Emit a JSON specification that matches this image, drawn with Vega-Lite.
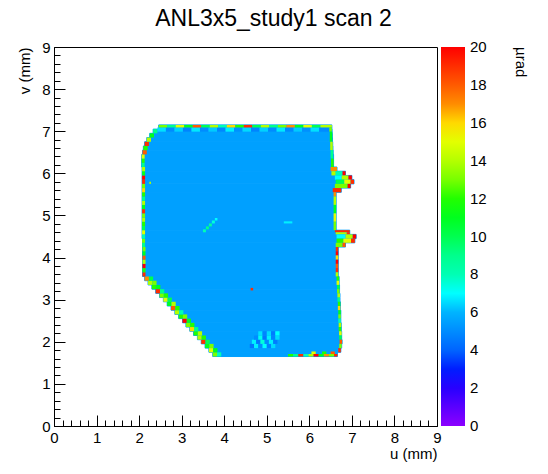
{
"$schema": "https://vega.github.io/schema/vega-lite/v6.json",
"width": 383, "height": 379,
"autosize": {"type": "none"},
"padding": {"left": 54, "top": 47, "right": 111, "bottom": 48},
"background": "white",
"title": {"text": "ANL3x5_study1 scan 2", "font": "Liberation Sans", "fontSize": 23, "fontWeight": "normal", "color": "black", "anchor": "middle", "frame": "group", "dx": 28, "dy": 29, "offset": 15, "baseline": "bottom"},
"config": {
 "view": {"stroke": "black", "strokeWidth": 1},
 "axis": {"labelFont": "Liberation Sans", "labelFontSize": 15, "labelColor": "black", "titleFont": "Liberation Sans", "titleFontSize": 15, "titleFontWeight": "normal", "titleColor": "black", "domainColor": "black", "tickColor": "black", "grid": false, "tickWidth": 1, "domainWidth": 1},
 "legend": {"labelFont": "Liberation Sans", "titleFont": "Liberation Sans"}
},
"datasets": {
 "body": [
{"u1":3.73,"u2":6.66,"v1":1.65,"v2":1.75,"val":5.5},
{"u1":3.64,"u2":6.74,"v1":1.75,"v2":1.85,"val":5.5},
{"u1":3.55,"u2":6.76,"v1":1.85,"v2":1.95,"val":5.5},
{"u1":3.46,"u2":6.77,"v1":1.95,"v2":2.05,"val":5.5},
{"u1":3.37,"u2":6.76,"v1":2.05,"v2":2.15,"val":5.5},
{"u1":3.28,"u2":6.76,"v1":2.15,"v2":2.25,"val":5.5},
{"u1":3.19,"u2":6.75,"v1":2.25,"v2":2.35,"val":5.5},
{"u1":3.10,"u2":6.75,"v1":2.35,"v2":2.45,"val":5.5},
{"u1":3.02,"u2":6.74,"v1":2.45,"v2":2.55,"val":5.5},
{"u1":2.93,"u2":6.74,"v1":2.55,"v2":2.65,"val":5.5},
{"u1":2.84,"u2":6.74,"v1":2.65,"v2":2.75,"val":5.5},
{"u1":2.75,"u2":6.73,"v1":2.75,"v2":2.85,"val":5.5},
{"u1":2.66,"u2":6.73,"v1":2.85,"v2":2.95,"val":5.5},
{"u1":2.57,"u2":6.72,"v1":2.95,"v2":3.05,"val":5.5},
{"u1":2.48,"u2":6.72,"v1":3.05,"v2":3.15,"val":5.5},
{"u1":2.39,"u2":6.71,"v1":3.15,"v2":3.25,"val":5.5},
{"u1":2.30,"u2":6.71,"v1":3.25,"v2":3.35,"val":5.5},
{"u1":2.21,"u2":6.70,"v1":3.35,"v2":3.45,"val":5.5},
{"u1":2.13,"u2":6.70,"v1":3.45,"v2":3.55,"val":5.5},
{"u1":2.08,"u2":6.68,"v1":3.55,"v2":4.25,"val":5.5},
{"u1":2.08,"u2":6.85,"v1":4.25,"v2":4.35,"val":5.5},
{"u1":2.08,"u2":7.07,"v1":4.35,"v2":4.45,"val":5.5},
{"u1":2.07,"u2":7.10,"v1":4.45,"v2":4.55,"val":5.5},
{"u1":2.07,"u2":6.95,"v1":4.55,"v2":4.65,"val":5.5},
{"u1":2.07,"u2":6.63,"v1":4.65,"v2":5.55,"val":5.5},
{"u1":2.07,"u2":6.75,"v1":5.55,"v2":5.65,"val":5.5},
{"u1":2.07,"u2":6.97,"v1":5.65,"v2":5.75,"val":5.5},
{"u1":2.07,"u2":7.05,"v1":5.75,"v2":5.85,"val":5.5},
{"u1":2.07,"u2":7.00,"v1":5.85,"v2":5.95,"val":5.5},
{"u1":2.07,"u2":6.85,"v1":5.95,"v2":6.05,"val":5.5},
{"u1":2.07,"u2":6.65,"v1":6.05,"v2":6.15,"val":5.5},
{"u1":2.06,"u2":6.57,"v1":6.15,"v2":6.45,"val":5.5},
{"u1":2.08,"u2":6.56,"v1":6.45,"v2":6.55,"val":5.5},
{"u1":2.10,"u2":6.555,"v1":6.55,"v2":6.65,"val":5.5},
{"u1":2.13,"u2":6.55,"v1":6.65,"v2":6.75,"val":5.5},
{"u1":2.18,"u2":6.545,"v1":6.75,"v2":6.85,"val":5.5},
{"u1":2.25,"u2":6.54,"v1":6.85,"v2":6.95,"val":5.5},
{"u1":2.33,"u2":6.535,"v1":6.95,"v2":7.05,"val":5.5},
{"u1":2.46,"u2":6.53,"v1":7.05,"v2":7.15,"val":5.5}
 ],
 "edges": [
{"u1":3.73,"u2":3.83,"v1":1.65,"v2":1.75,"val":13},{"u1":3.83,"u2":3.93,"v1":1.65,"v2":1.75,"val":8},
{"u1":3.64,"u2":3.74,"v1":1.75,"v2":1.85,"val":15},{"u1":3.74,"u2":3.84,"v1":1.75,"v2":1.85,"val":11},
{"u1":3.55,"u2":3.65,"v1":1.85,"v2":1.95,"val":11},{"u1":3.65,"u2":3.75,"v1":1.85,"v2":1.95,"val":13},
{"u1":3.46,"u2":3.56,"v1":1.95,"v2":2.05,"val":19},{"u1":3.56,"u2":3.66,"v1":1.95,"v2":2.05,"val":10},
{"u1":3.37,"u2":3.47,"v1":2.05,"v2":2.15,"val":14},{"u1":3.47,"u2":3.57,"v1":2.05,"v2":2.15,"val":12},
{"u1":3.28,"u2":3.38,"v1":2.15,"v2":2.25,"val":12},{"u1":3.38,"u2":3.48,"v1":2.15,"v2":2.25,"val":14},
{"u1":3.19,"u2":3.29,"v1":2.25,"v2":2.35,"val":16},{"u1":3.29,"u2":3.39,"v1":2.25,"v2":2.35,"val":9},
{"u1":3.10,"u2":3.20,"v1":2.35,"v2":2.45,"val":13},{"u1":3.20,"u2":3.30,"v1":2.35,"v2":2.45,"val":12},
{"u1":3.02,"u2":3.12,"v1":2.45,"v2":2.55,"val":20},{"u1":3.12,"u2":3.22,"v1":2.45,"v2":2.55,"val":11},
{"u1":2.93,"u2":3.03,"v1":2.55,"v2":2.65,"val":12},{"u1":3.03,"u2":3.13,"v1":2.55,"v2":2.65,"val":13},
{"u1":2.84,"u2":2.94,"v1":2.65,"v2":2.75,"val":14},{"u1":2.94,"u2":3.04,"v1":2.65,"v2":2.75,"val":8},
{"u1":2.75,"u2":2.85,"v1":2.75,"v2":2.85,"val":18},{"u1":2.85,"u2":2.95,"v1":2.75,"v2":2.85,"val":12},
{"u1":2.66,"u2":2.76,"v1":2.85,"v2":2.95,"val":11},{"u1":2.76,"u2":2.86,"v1":2.85,"v2":2.95,"val":14},
{"u1":2.57,"u2":2.67,"v1":2.95,"v2":3.05,"val":15},{"u1":2.67,"u2":2.77,"v1":2.95,"v2":3.05,"val":10},
{"u1":2.48,"u2":2.58,"v1":3.05,"v2":3.15,"val":13},{"u1":2.58,"u2":2.68,"v1":3.05,"v2":3.15,"val":12},
{"u1":2.39,"u2":2.49,"v1":3.15,"v2":3.25,"val":19},{"u1":2.49,"u2":2.59,"v1":3.15,"v2":3.25,"val":9},
{"u1":2.30,"u2":2.40,"v1":3.25,"v2":3.35,"val":12},{"u1":2.40,"u2":2.50,"v1":3.25,"v2":3.35,"val":11},
{"u1":2.21,"u2":2.31,"v1":3.35,"v2":3.45,"val":14},{"u1":2.31,"u2":2.41,"v1":3.35,"v2":3.45,"val":13},
{"u1":2.13,"u2":2.23,"v1":3.45,"v2":3.55,"val":17},{"u1":2.23,"u2":2.33,"v1":3.45,"v2":3.55,"val":10},
{"u1":2.08,"u2":2.15,"v1":3.55,"v2":3.65,"val":19},
{"u1":2.08,"u2":2.15,"v1":3.65,"v2":3.75,"val":12},
{"u1":2.08,"u2":2.15,"v1":3.75,"v2":3.85,"val":20},
{"u1":2.08,"u2":2.15,"v1":3.85,"v2":3.95,"val":14},
{"u1":2.08,"u2":2.15,"v1":3.95,"v2":4.05,"val":18},
{"u1":2.08,"u2":2.15,"v1":4.05,"v2":4.15,"val":11},
{"u1":2.08,"u2":2.15,"v1":4.15,"v2":4.25,"val":13},
{"u1":2.07,"u2":2.14,"v1":4.25,"v2":4.35,"val":9},
{"u1":2.07,"u2":2.14,"v1":4.35,"v2":4.45,"val":13},
{"u1":2.07,"u2":2.14,"v1":4.45,"v2":4.55,"val":8},
{"u1":2.07,"u2":2.14,"v1":4.55,"v2":4.65,"val":15},
{"u1":2.07,"u2":2.14,"v1":4.65,"v2":4.75,"val":10},
{"u1":2.07,"u2":2.14,"v1":4.75,"v2":4.85,"val":12},
{"u1":2.07,"u2":2.14,"v1":4.85,"v2":4.95,"val":14},
{"u1":2.07,"u2":2.14,"v1":4.95,"v2":5.05,"val":13},
{"u1":2.07,"u2":2.14,"v1":5.05,"v2":5.15,"val":19},
{"u1":2.07,"u2":2.14,"v1":5.15,"v2":5.25,"val":11},
{"u1":2.07,"u2":2.14,"v1":5.25,"v2":5.35,"val":14},
{"u1":2.07,"u2":2.14,"v1":5.35,"v2":5.45,"val":9},
{"u1":2.07,"u2":2.14,"v1":5.45,"v2":5.55,"val":12},
{"u1":2.07,"u2":2.14,"v1":5.55,"v2":5.65,"val":16},
{"u1":2.07,"u2":2.14,"v1":5.65,"v2":5.75,"val":13},
{"u1":2.07,"u2":2.14,"v1":5.75,"v2":5.85,"val":19},
{"u1":2.07,"u2":2.14,"v1":5.85,"v2":5.95,"val":20},
{"u1":2.07,"u2":2.14,"v1":5.95,"v2":6.05,"val":11},
{"u1":2.07,"u2":2.14,"v1":6.05,"v2":6.15,"val":14},
{"u1":2.06,"u2":2.13,"v1":6.15,"v2":6.25,"val":9},
{"u1":2.06,"u2":2.13,"v1":6.25,"v2":6.35,"val":12},
{"u1":2.06,"u2":2.13,"v1":6.35,"v2":6.45,"val":15},
{"u1":2.08,"u2":2.18,"v1":6.45,"v2":6.55,"val":18},
{"u1":2.10,"u2":2.20,"v1":6.55,"v2":6.65,"val":12},
{"u1":2.13,"u2":2.23,"v1":6.65,"v2":6.75,"val":19},
{"u1":2.18,"u2":2.28,"v1":6.75,"v2":6.85,"val":14},
{"u1":2.25,"u2":2.35,"v1":6.85,"v2":6.95,"val":11},
{"u1":2.33,"u2":2.43,"v1":6.95,"v2":7.05,"val":9},
{"u1":2.43,"u2":2.63,"v1":6.99,"v2":7.09,"val":6.6},
{"u1":2.63,"u2":2.83,"v1":6.99,"v2":7.09,"val":5.0},
{"u1":2.83,"u2":3.03,"v1":6.99,"v2":7.09,"val":6.4},
{"u1":3.03,"u2":3.23,"v1":6.99,"v2":7.09,"val":4.8},
{"u1":3.23,"u2":3.43,"v1":6.99,"v2":7.09,"val":6.7},
{"u1":3.43,"u2":3.63,"v1":6.99,"v2":7.09,"val":5.0},
{"u1":3.63,"u2":3.83,"v1":6.99,"v2":7.09,"val":6.3},
{"u1":3.83,"u2":4.03,"v1":6.99,"v2":7.09,"val":4.9},
{"u1":4.03,"u2":4.23,"v1":6.99,"v2":7.09,"val":6.8},
{"u1":4.23,"u2":4.43,"v1":6.99,"v2":7.09,"val":5.1},
{"u1":4.43,"u2":4.63,"v1":6.99,"v2":7.09,"val":6.5},
{"u1":4.63,"u2":4.83,"v1":6.99,"v2":7.09,"val":4.8},
{"u1":4.83,"u2":5.03,"v1":6.99,"v2":7.09,"val":6.4},
{"u1":5.03,"u2":5.23,"v1":6.99,"v2":7.09,"val":5.0},
{"u1":5.23,"u2":5.43,"v1":6.99,"v2":7.09,"val":6.7},
{"u1":5.43,"u2":5.63,"v1":6.99,"v2":7.09,"val":4.9},
{"u1":5.63,"u2":5.83,"v1":6.99,"v2":7.09,"val":6.3},
{"u1":5.83,"u2":6.03,"v1":6.99,"v2":7.09,"val":5.1},
{"u1":6.03,"u2":6.23,"v1":6.99,"v2":7.09,"val":6.6},
{"u1":6.23,"u2":6.47,"v1":6.99,"v2":7.09,"val":5.0},
{"u1":2.46,"u2":2.66,"v1":7.09,"v2":7.15,"val":13},
{"u1":2.66,"u2":2.86,"v1":7.09,"v2":7.15,"val":9},
{"u1":2.86,"u2":3.06,"v1":7.09,"v2":7.15,"val":15},
{"u1":3.06,"u2":3.26,"v1":7.09,"v2":7.15,"val":11},
{"u1":3.26,"u2":3.46,"v1":7.09,"v2":7.15,"val":18},
{"u1":3.46,"u2":3.66,"v1":7.09,"v2":7.15,"val":10},
{"u1":3.66,"u2":3.86,"v1":7.09,"v2":7.15,"val":14},
{"u1":3.86,"u2":4.06,"v1":7.09,"v2":7.15,"val":8},
{"u1":4.06,"u2":4.26,"v1":7.09,"v2":7.15,"val":16},
{"u1":4.26,"u2":4.46,"v1":7.09,"v2":7.15,"val":12},
{"u1":4.46,"u2":4.66,"v1":7.09,"v2":7.15,"val":19},
{"u1":4.66,"u2":4.86,"v1":7.09,"v2":7.15,"val":10},
{"u1":4.86,"u2":5.06,"v1":7.09,"v2":7.15,"val":14},
{"u1":5.06,"u2":5.26,"v1":7.09,"v2":7.15,"val":9},
{"u1":5.26,"u2":5.46,"v1":7.09,"v2":7.15,"val":13},
{"u1":5.46,"u2":5.66,"v1":7.09,"v2":7.15,"val":17},
{"u1":5.66,"u2":5.86,"v1":7.09,"v2":7.15,"val":11},
{"u1":5.86,"u2":6.06,"v1":7.09,"v2":7.15,"val":15},
{"u1":6.06,"u2":6.26,"v1":7.09,"v2":7.15,"val":10},
{"u1":6.26,"u2":6.53,"v1":7.09,"v2":7.15,"val":14},
{"u1":6.47,"u2":6.53,"v1":6.99,"v2":7.09,"val":13},
{"u1":6.48,"u2":6.54,"v1":6.75,"v2":6.99,"val":11},
{"u1":6.49,"u2":6.55,"v1":6.55,"v2":6.75,"val":14},
{"u1":6.50,"u2":6.56,"v1":6.35,"v2":6.55,"val":9},
{"u1":6.51,"u2":6.57,"v1":6.15,"v2":6.35,"val":12},
{"u1":6.50,"u2":6.65,"v1":6.05,"v2":6.15,"val":17},
{"u1":6.52,"u2":6.62,"v1":5.95,"v2":6.05,"val":14},
{"u1":6.62,"u2":6.78,"v1":5.95,"v2":6.05,"val":8},
{"u1":6.78,"u2":6.85,"v1":5.95,"v2":6.05,"val":20},
{"u1":6.60,"u2":6.76,"v1":5.85,"v2":5.95,"val":7},
{"u1":6.76,"u2":6.92,"v1":5.85,"v2":5.95,"val":14},
{"u1":6.92,"u2":7.00,"v1":5.85,"v2":5.95,"val":20},
{"u1":6.62,"u2":6.82,"v1":5.75,"v2":5.85,"val":10},
{"u1":6.82,"u2":6.97,"v1":5.75,"v2":5.85,"val":15},
{"u1":6.97,"u2":7.05,"v1":5.75,"v2":5.85,"val":19},
{"u1":6.60,"u2":6.90,"v1":5.65,"v2":5.75,"val":13},
{"u1":6.90,"u2":6.97,"v1":5.65,"v2":5.75,"val":20},
{"u1":6.55,"u2":6.75,"v1":5.55,"v2":5.65,"val":19},
{"u1":6.57,"u2":6.63,"v1":5.45,"v2":5.55,"val":17},
{"u1":6.57,"u2":6.63,"v1":5.25,"v2":5.45,"val":14},
{"u1":6.57,"u2":6.63,"v1":5.05,"v2":5.25,"val":11},
{"u1":6.57,"u2":6.63,"v1":4.85,"v2":5.05,"val":15},
{"u1":6.57,"u2":6.63,"v1":4.65,"v2":4.85,"val":13},
{"u1":6.60,"u2":6.95,"v1":4.60,"v2":4.65,"val":19},
{"u1":6.62,"u2":6.88,"v1":4.55,"v2":4.60,"val":14},
{"u1":6.88,"u2":6.95,"v1":4.55,"v2":4.60,"val":19},
{"u1":6.64,"u2":6.85,"v1":4.45,"v2":4.55,"val":7},
{"u1":6.85,"u2":7.02,"v1":4.45,"v2":4.55,"val":14},
{"u1":7.02,"u2":7.10,"v1":4.45,"v2":4.55,"val":20},
{"u1":6.64,"u2":6.80,"v1":4.35,"v2":4.45,"val":12},
{"u1":6.80,"u2":6.98,"v1":4.35,"v2":4.45,"val":15},
{"u1":6.98,"u2":7.07,"v1":4.35,"v2":4.45,"val":19},
{"u1":6.62,"u2":6.78,"v1":4.25,"v2":4.35,"val":13},
{"u1":6.78,"u2":6.85,"v1":4.25,"v2":4.35,"val":18},
{"u1":6.62,"u2":6.68,"v1":4.15,"v2":4.25,"val":19},
{"u1":6.62,"u2":6.68,"v1":4.05,"v2":4.15,"val":20},
{"u1":6.62,"u2":6.68,"v1":3.95,"v2":4.05,"val":16},
{"u1":6.62,"u2":6.68,"v1":3.85,"v2":3.95,"val":20},
{"u1":6.62,"u2":6.68,"v1":3.75,"v2":3.85,"val":18},
{"u1":6.62,"u2":6.68,"v1":3.65,"v2":3.75,"val":19},
{"u1":6.62,"u2":6.68,"v1":3.55,"v2":3.65,"val":14},
{"u1":6.64,"u2":6.70,"v1":3.45,"v2":3.55,"val":12},
{"u1":6.64,"u2":6.70,"v1":3.35,"v2":3.45,"val":15},
{"u1":6.65,"u2":6.71,"v1":3.25,"v2":3.35,"val":10},
{"u1":6.65,"u2":6.71,"v1":3.15,"v2":3.25,"val":13},
{"u1":6.66,"u2":6.72,"v1":3.05,"v2":3.15,"val":14},
{"u1":6.66,"u2":6.72,"v1":2.95,"v2":3.05,"val":9},
{"u1":6.67,"u2":6.73,"v1":2.85,"v2":2.95,"val":12},
{"u1":6.67,"u2":6.73,"v1":2.75,"v2":2.85,"val":16},
{"u1":6.68,"u2":6.74,"v1":2.65,"v2":2.75,"val":11},
{"u1":6.68,"u2":6.74,"v1":2.55,"v2":2.65,"val":13},
{"u1":6.68,"u2":6.74,"v1":2.45,"v2":2.55,"val":8},
{"u1":6.69,"u2":6.75,"v1":2.35,"v2":2.45,"val":14},
{"u1":6.69,"u2":6.75,"v1":2.25,"v2":2.35,"val":12},
{"u1":6.70,"u2":6.76,"v1":2.15,"v2":2.25,"val":15},
{"u1":6.70,"u2":6.76,"v1":2.05,"v2":2.15,"val":10},
{"u1":6.71,"u2":6.77,"v1":1.95,"v2":2.05,"val":18},
{"u1":6.70,"u2":6.76,"v1":1.85,"v2":1.95,"val":13},
{"u1":6.68,"u2":6.74,"v1":1.75,"v2":1.85,"val":19},
{"u1":5.50,"u2":5.62,"v1":1.65,"v2":1.71,"val":12},
{"u1":5.62,"u2":5.74,"v1":1.65,"v2":1.71,"val":9},
{"u1":5.74,"u2":5.86,"v1":1.65,"v2":1.71,"val":19},
{"u1":5.86,"u2":5.98,"v1":1.65,"v2":1.71,"val":8},
{"u1":5.98,"u2":6.10,"v1":1.65,"v2":1.71,"val":14},
{"u1":6.10,"u2":6.22,"v1":1.65,"v2":1.71,"val":20},
{"u1":6.22,"u2":6.34,"v1":1.65,"v2":1.71,"val":11},
{"u1":6.34,"u2":6.46,"v1":1.65,"v2":1.71,"val":17},
{"u1":6.46,"u2":6.58,"v1":1.65,"v2":1.71,"val":13},
{"u1":6.58,"u2":6.66,"v1":1.65,"v2":1.71,"val":19},
{"u1":6.05,"u2":6.15,"v1":1.71,"v2":1.77,"val":15},
{"u1":6.30,"u2":6.40,"v1":1.71,"v2":1.77,"val":12},
{"u1":6.50,"u2":6.60,"v1":1.71,"v2":1.77,"val":18},
{"u1":4.60,"u2":4.70,"v1":1.85,"v2":1.95,"val":4.5},
{"u1":4.70,"u2":4.80,"v1":1.85,"v2":1.95,"val":6.8},
{"u1":4.80,"u2":4.90,"v1":1.85,"v2":1.95,"val":5},
{"u1":4.90,"u2":5.00,"v1":1.85,"v2":1.95,"val":7},
{"u1":5.00,"u2":5.10,"v1":1.85,"v2":1.95,"val":4.8},
{"u1":5.10,"u2":5.20,"v1":1.85,"v2":1.95,"val":6.5},
{"u1":4.65,"u2":4.75,"v1":1.95,"v2":2.05,"val":6.8},
{"u1":4.75,"u2":4.85,"v1":1.95,"v2":2.05,"val":4.5},
{"u1":4.85,"u2":4.95,"v1":1.95,"v2":2.05,"val":7.5},
{"u1":4.95,"u2":5.05,"v1":1.95,"v2":2.05,"val":5},
{"u1":5.05,"u2":5.15,"v1":1.95,"v2":2.05,"val":6.8},
{"u1":5.15,"u2":5.25,"v1":1.95,"v2":2.05,"val":4.6},
{"u1":4.70,"u2":4.80,"v1":2.05,"v2":2.15,"val":5},
{"u1":4.80,"u2":4.90,"v1":2.05,"v2":2.15,"val":7.2},
{"u1":4.90,"u2":5.00,"v1":2.05,"v2":2.15,"val":4.5},
{"u1":5.00,"u2":5.10,"v1":2.05,"v2":2.15,"val":6.8},
{"u1":5.10,"u2":5.20,"v1":2.05,"v2":2.15,"val":4.8},
{"u1":5.20,"u2":5.30,"v1":2.05,"v2":2.15,"val":6.5},
{"u1":4.80,"u2":4.90,"v1":2.15,"v2":2.25,"val":6.6},
{"u1":4.90,"u2":5.00,"v1":2.15,"v2":2.25,"val":4.8},
{"u1":5.00,"u2":5.10,"v1":2.15,"v2":2.25,"val":6.5},
{"u1":5.10,"u2":5.20,"v1":2.15,"v2":2.25,"val":4.6},
{"u1":5.20,"u2":5.30,"v1":2.15,"v2":2.25,"val":7},
{"u1":3.50,"u2":3.57,"v1":4.60,"v2":4.67,"val":8},
{"u1":3.57,"u2":3.64,"v1":4.67,"v2":4.74,"val":9},
{"u1":3.64,"u2":3.71,"v1":4.74,"v2":4.81,"val":8.5},
{"u1":3.71,"u2":3.78,"v1":4.81,"v2":4.88,"val":7.5},
{"u1":3.78,"u2":3.84,"v1":4.88,"v2":4.94,"val":7},
{"u1":4.62,"u2":4.68,"v1":3.22,"v2":3.28,"val":19},
{"u1":5.40,"u2":5.60,"v1":4.81,"v2":4.86,"val":6.8},
{"u1":2.24,"u2":2.28,"v1":5.75,"v2":5.80,"val":14}
 ],
 "minor": [{"t": 0}]
},
"layer": [
 {
  "data": {"name": "body"},
  "mark": {"type": "rect", "stroke": "#00a0ff", "strokeWidth": 1},
  "encoding": {
   "x": {"field": "u1", "type": "quantitative", "scale": {"domain": [0, 9], "nice": false, "zero": false},
         "axis": {"orient": "bottom", "values": [0,1,2,3,4,5,6,7,8,9], "format": "d", "tickSize": -11, "labelPadding": 15, "labelAngle": 0, "labelFlush": false, "title": "u (mm)", "titleX": 383, "titleY": 32, "titleAlign": "right", "titleBaseline": "alphabetic"}},
   "x2": {"field": "u2"},
   "y": {"field": "v1", "type": "quantitative", "scale": {"domain": [0, 9], "nice": false, "zero": false},
         "axis": {"orient": "left", "values": [0,1,2,3,4,5,6,7,8,9], "format": "d", "tickSize": -11, "labelPadding": 15, "labelFlush": false, "title": "v (mm)", "titleX": -25, "titleY": 0, "titleAngle": 270, "titleAlign": "right", "titleBaseline": "alphabetic"}},
   "y2": {"field": "v2"},
   "color": {"field": "val", "type": "quantitative",
     "scale": {"type": "linear", "interpolate": "rgb", "domain": [0,1,2,2.6,4,5,6,7,8,9,10,11.6,13,14,15.6,16.4,17,18,20], "range": ["#8c00ff","#5a00ff","#2800ff","#0000ff","#0064ff","#008cff","#00b4ff","#00ffff","#00ffb4","#00ff8c","#00ff50","#00ff00","#78ff00","#b4ff00","#ffff00","#ffb400","#ff8c00","#ff5a00","#ff0000"], "clamp": true},
     "legend": {"type": "gradient", "orient": "right", "direction": "vertical", "offset": 4, "padding": 0, "gradientLength": 379, "gradientThickness": 24, "gradientStrokeWidth": 0, "values": [0,2,4,6,8,10,12,14,16,18,20], "labelFontSize": 15, "labelColor": "black", "labelOffset": 5, "labelOverlap": false, "title": "µrad", "titleOrient": "right", "titleAngle": 270, "titleFontSize": 15, "titleFontWeight": "normal", "titleColor": "black", "titlePadding": 26, "titleAnchor": "end",
       "encode": {"labels": {"update": {"baseline": {"value": "middle"}}}}}}
  }
 },
 {
  "data": {"name": "edges"},
  "mark": {"type": "rect", "strokeWidth": 0},
  "encoding": {
   "x": {"field": "u1", "type": "quantitative", "axis": null},
   "x2": {"field": "u2"},
   "y": {"field": "v1", "type": "quantitative", "axis": null},
   "y2": {"field": "v2"},
   "color": {"field": "val", "type": "quantitative"}
  }
 },
 {
  "data": {"name": "minor"},
  "mark": {"type": "point", "opacity": 0},
  "encoding": {
   "x": {"field": "t", "type": "quantitative", "axis": {"orient": "bottom", "values": [0.2,0.4,0.6,0.8,1.2,1.4,1.6,1.8,2.2,2.4,2.6,2.8,3.2,3.4,3.6,3.8,4.2,4.4,4.6,4.8,5.2,5.4,5.6,5.8,6.2,6.4,6.6,6.8,7.2,7.4,7.6,7.8,8.2,8.4,8.6,8.8], "tickSize": -6, "labels": false, "domain": false, "title": null}},
   "y": {"field": "t", "type": "quantitative", "axis": {"orient": "left", "values": [0.2,0.4,0.6,0.8,1.2,1.4,1.6,1.8,2.2,2.4,2.6,2.8,3.2,3.4,3.6,3.8,4.2,4.4,4.6,4.8,5.2,5.4,5.6,5.8,6.2,6.4,6.6,6.8,7.2,7.4,7.6,7.8,8.2,8.4,8.6,8.8], "tickSize": -6, "labels": false, "domain": false, "title": null}}
  }
 }
],
"resolve": {"axis": {"x": "independent", "y": "independent"}}
}
